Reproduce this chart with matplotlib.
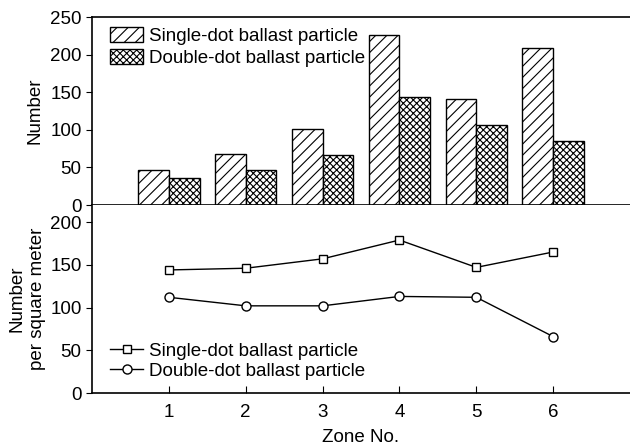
import numpy as np
import matplotlib.pyplot as plt

plt.rcParams['font.family'] = ['Liberation Sans', 'DejaVu Sans']
plt.rcParams['hatch.linewidth'] = 0.8

# data
zones = [1, 2, 3, 4, 5, 6]
single_num = [46, 68, 101, 226, 141, 209]
double_num = [36, 47, 66, 144, 106, 85]
single_dens = [144, 146, 157, 179, 147, 165]
double_dens = [112, 102, 102, 113, 112, 66]

fs = 13.5

fig = plt.figure(figsize=(6.3, 4.47), dpi=100)
ax1 = fig.add_axes([92/630, 1-205/447, 1-92/630, 188/447])
ax2 = fig.add_axes([92/630, 1-393/447, 1-92/630, 188/447], sharex=ax1)

x = np.array(zones)
w = 0.4
ax1.bar(x - w/2, single_num, w, facecolor='white', edgecolor='black',
        hatch='///', lw=1, label='Single-dot ballast particle')
ax1.bar(x + w/2, double_num, w, facecolor='white', edgecolor='black',
        hatch='xxxxx', lw=1, label='Double-dot ballast particle')
ax1.set_ylim(0, 250)
ax1.set_yticks([0, 50, 100, 150, 200, 250])
ax1.set_ylabel('Number', fontsize=fs)
ax1.tick_params(axis='x', bottom=False, labelbottom=False)
ax1.spines['right'].set_visible(False)
ax1.legend(loc='upper left', frameon=False, fontsize=fs, handlelength=1.75,
           handleheight=0.85, borderaxespad=0.2, labelspacing=0.2,
           handletextpad=0.3, borderpad=0.2, bbox_to_anchor=(0.02, 0.985))

ax2.plot(x, single_dens, 'k-', marker='s', mfc='white', ms=5.5, lw=1,
         label='Single-dot ballast particle')
ax2.plot(x, double_dens, 'k-', marker='o', mfc='white', ms=6.5, lw=1,
         label='Double-dot ballast particle')
ax2.set_ylim(0, 220)
ax2.set_yticks([0, 50, 100, 150, 200])
ax2.set_xlim(0, 7)
ax2.set_xticks(zones)
ax2.tick_params(axis='x', direction='in', length=5, pad=8)
ax2.set_ylabel('Number\nper square meter', fontsize=fs, linespacing=1.25)
ax2.set_xlabel('Zone No.', fontsize=fs, labelpad=6)
ax2.spines['right'].set_visible(False)
ax2.spines['top'].set_visible(False)
ax2.legend(loc='lower left', frameon=False, fontsize=fs, handlelength=1.75,
           borderaxespad=0.2, labelspacing=0.15, handletextpad=0.3,
           borderpad=0.2, bbox_to_anchor=(0.02, 0.03))

for ax in (ax1, ax2):
    ax.tick_params(axis='y', direction='out', length=4, labelsize=fs)
    ax.tick_params(axis='x', labelsize=fs)
    for s in ax.spines.values():
        s.set_linewidth(1.2)

ax1.yaxis.set_label_coords(-0.09, 0.5)
ax2.yaxis.set_label_coords(-0.086, 0.5)

fig.savefig('out.png', dpi=100)
